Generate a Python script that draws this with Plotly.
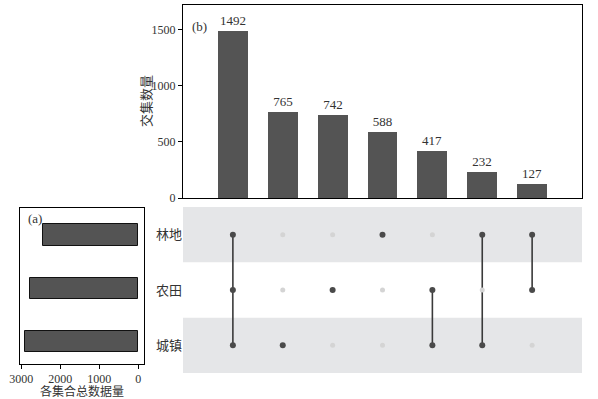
import plotly.graph_objects as go

# ---- data ----
set_names = ["城镇", "农田", "林地"]            # bottom to top
set_sizes = [2906, 2778, 2439]
intersection_counts = [1492, 765, 742, 588, 417, 232, 127]
intersection_members = [
    ["林地", "农田", "城镇"],
    ["城镇"],
    ["农田"],
    ["林地"],
    ["农田", "城镇"],
    ["林地", "城镇"],
    ["林地", "农田"],
]
set_ticks = [3000, 2000, 1000, 0]
count_ticks = [0, 500, 1000, 1500]

W, H = 598, 399
def px(x): return x / W
def py(y): return 1 - y / H

FONT = "Liberation Serif, Times New Roman, Noto Sans CJK SC, serif"
BAR = "#545454"
TXT = "#333333"

fig = go.Figure()
cols = list(range(len(intersection_counts)))

# top intersection bars
fig.add_trace(go.Bar(
    x=cols, y=intersection_counts, width=0.6, marker=dict(color=BAR, line=dict(width=0)),
    text=[str(v) for v in intersection_counts], textposition="outside",
    textfont=dict(family=FONT, size=13, color=TXT), cliponaxis=False,
    xaxis="x", yaxis="y", showlegend=False, hoverinfo="x+y"))

# matrix bands
for i, s in enumerate(set_names):
    if i % 2 == 0:
        fig.add_shape(type="rect", xref="x2 domain", yref="y2",
                      x0=0, x1=1, y0=i - 0.5, y1=i + 0.5,
                      fillcolor="#e5e6e8", line=dict(width=0), layer="below")

# matrix lines and dots
for c, members in enumerate(intersection_members):
    idx = sorted(set_names.index(m) for m in members)
    if len(idx) > 1:
        fig.add_trace(go.Scatter(
            x=[c, c], y=[idx[0], idx[-1]], mode="lines",
            line=dict(color="#3a3a3a", width=1.6), xaxis="x2", yaxis="y2",
            showlegend=False, hoverinfo="skip"))
    for i, s in enumerate(set_names):
        active = s in members
        fig.add_trace(go.Scatter(
            x=[c], y=[i], mode="markers",
            marker=dict(size=6 if active else 5,
                        color="#4a4a4a" if active else "#d4d4d4"),
            xaxis="x2", yaxis="y2", showlegend=False, hoverinfo="skip"))

# left set-size bars
fig.add_trace(go.Bar(
    x=set_sizes, y=list(range(len(set_names))), orientation="h", width=0.4,
    marker=dict(color=BAR, line=dict(color="#111111", width=1)),
    xaxis="x3", yaxis="y3", showlegend=False))

# set labels
for i, s in enumerate(set_names):
    fig.add_annotation(x=px(169), xref="paper", y=i, yref="y2", text=s,
                       xanchor="center", yanchor="middle",
                       showarrow=False, font=dict(family=FONT, size=13, color=TXT))

fig.add_annotation(x=px(190), y=py(17), xref="paper", yref="paper", text="(b)",
                   showarrow=False, xanchor="left", font=dict(family=FONT, size=13, color=TXT))
fig.add_annotation(x=px(26), y=py(218), xref="paper", yref="paper", text="(a)",
                   showarrow=False, xanchor="left", font=dict(family=FONT, size=13, color=TXT))

# axis titles
fig.add_annotation(x=px(147), y=py(101), xref="paper", yref="paper", text="交集数量",
                   textangle=-90, xanchor="center", yanchor="middle", showarrow=False,
                   font=dict(family=FONT, size=13, color=TXT))
fig.add_annotation(x=px(82), y=py(391), xref="paper", yref="paper", text="各集合总数据量",
                   xanchor="center", yanchor="middle", showarrow=False,
                   font=dict(family=FONT, size=12, color=TXT))

axis_common = dict(showgrid=False, zeroline=False, automargin=False)
fig.update_layout(
    width=W, height=H, margin=dict(l=0, r=0, t=0, b=0),
    paper_bgcolor="white", plot_bgcolor="white",
    font=dict(family=FONT, size=12, color=TXT),
    bargap=0,
    xaxis=dict(domain=[px(183), px(582)], anchor="y", range=[-1, 7],
               showticklabels=False, ticks="", showline=True, mirror=True,
               linecolor="black", linewidth=1, **axis_common),
    yaxis=dict(domain=[py(198), py(5)], anchor="x", range=[0, 1723],
               tickvals=count_ticks, ticks="outside", ticklen=4, tickcolor="black",
               showline=True, mirror=True, linecolor="black", linewidth=1,
               tickfont=dict(family=FONT, size=12, color=TXT),
               **axis_common),
    xaxis2=dict(domain=[px(183), px(582)], anchor="y2", range=[-1, 7],
                showticklabels=False, ticks="", showline=False, **axis_common),
    yaxis2=dict(domain=[py(373), py(207)], anchor="x2", range=[-0.5, 2.5],
                showticklabels=False, ticks="", showline=False, **axis_common),
    xaxis3=dict(domain=[px(20), px(144)], anchor="y3", range=[3035, -146],
                tickvals=set_ticks, ticks="outside", ticklen=4, tickcolor="black",
                showline=True, mirror=True, linecolor="black", linewidth=1,
                tickfont=dict(family=FONT, size=12, color=TXT),
                **axis_common),
    yaxis3=dict(domain=[py(364), py(208)], anchor="x3", range=[-0.43, 2.51],
                showticklabels=False, ticks="", showline=True, mirror=True,
                linecolor="black", linewidth=1, **axis_common),
)

fig.write_html("out.html", config={"displayModeBar": False},
               post_script="document.body.style.margin='0';document.body.style.overflow='hidden';")
